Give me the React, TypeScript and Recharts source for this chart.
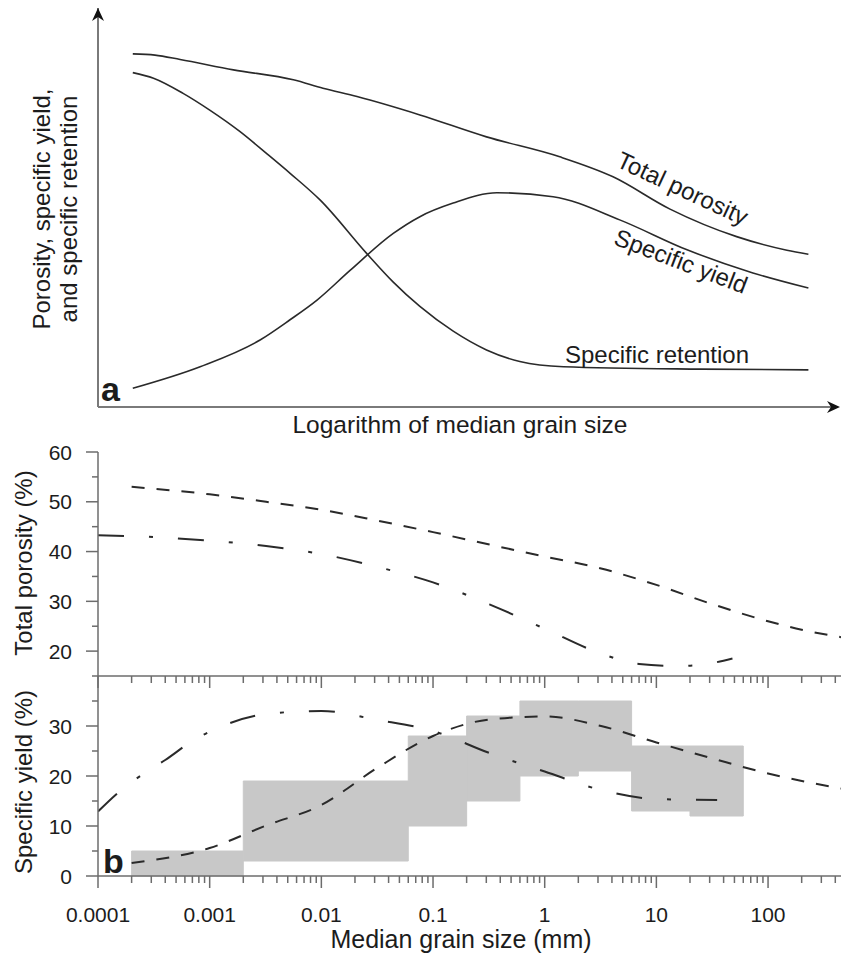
import { LineChart, Line, XAxis, YAxis, ReferenceArea, ReferenceDot } from "recharts"

const FONT = '"Liberation Sans", Arial, Helvetica, sans-serif'
const INK = "#1c1c1c"
const AXIS = "#6c6c6c"
const CURVE = "#2a2a2a"
const RANGE_FILL = "#c8c8c8"

// ---------------------------------------------------------------------------
// Panel a: schematic curves (arbitrary units, 0–100 on both axes)
// ---------------------------------------------------------------------------

const schematicTotalPorosity = [
  { x: 4.7, y: 88.5 }, { x: 7.7, y: 88.2 }, { x: 11.1, y: 87.1 }, { x: 18.3, y: 84.5 },
  { x: 26.4, y: 82.0 }, { x: 30.4, y: 79.9 }, { x: 35.0, y: 77.8 }, { x: 43.5, y: 73.2 },
  { x: 52.5, y: 67.7 }, { x: 62.4, y: 62.7 }, { x: 69.6, y: 57.7 }, { x: 77.3, y: 49.6 },
  { x: 86.3, y: 42.7 }, { x: 93.1, y: 39.3 }, { x: 96.0, y: 38.3 },
]

const schematicSpecificYield = [
  { x: 4.7, y: 4.7 }, { x: 13.8, y: 10.1 }, { x: 21.9, y: 16.8 }, { x: 25.9, y: 21.8 },
  { x: 29.6, y: 26.8 }, { x: 34.1, y: 34.3 }, { x: 39.9, y: 43.5 }, { x: 43.5, y: 47.7 },
  { x: 48.0, y: 51.1 }, { x: 53.9, y: 53.7 }, { x: 61.5, y: 52.7 }, { x: 70.5, y: 46.9 },
  { x: 79.6, y: 39.4 }, { x: 88.5, y: 33.6 }, { x: 96.0, y: 29.8 },
]

const schematicSpecificRetention = [
  { x: 4.7, y: 83.8 }, { x: 7.5, y: 82.4 }, { x: 11.5, y: 78.6 }, { x: 15.1, y: 74.4 },
  { x: 19.2, y: 69.0 }, { x: 22.8, y: 63.5 }, { x: 26.0, y: 58.5 }, { x: 30.0, y: 51.9 },
  { x: 36.3, y: 38.5 }, { x: 39.9, y: 31.3 }, { x: 43.5, y: 25.2 }, { x: 48.0, y: 19.0 },
  { x: 52.5, y: 14.3 }, { x: 57.0, y: 11.4 }, { x: 62.9, y: 10.1 }, { x: 81.4, y: 9.5 },
  { x: 96.0, y: 9.3 },
]

// ---------------------------------------------------------------------------
// Panel b: measured relations vs median grain size (mm)
// ---------------------------------------------------------------------------

const majorTicks = [0.0001, 0.001, 0.01, 0.1, 1, 10, 100]
const majorLabels = ["0.0001", "0.001", "0.01", "0.1", "1", "10", "100"]
const minorSteps = [2, 3, 4, 5, 6, 7, 8, 9]
const X_MAX = 450

const porosityTicks = [15, 20, 25, 30, 35, 40, 45, 50, 55, 60]
const yieldTicks = [0, 5, 10, 15, 20, 25, 30, 35]

// total porosity, dashed
const porosityDashed = [
  { x: 0.0002, y: 53.0 }, { x: 0.001, y: 51.5 }, { x: 0.0032, y: 50.0 }, { x: 0.01, y: 48.4 },
  { x: 0.032, y: 46.2 }, { x: 0.1, y: 43.9 }, { x: 0.32, y: 41.4 }, { x: 1, y: 39.0 },
  { x: 3.2, y: 36.6 }, { x: 10, y: 33.3 }, { x: 32, y: 29.4 }, { x: 100, y: 26.0 },
  { x: 200, y: 24.3 }, { x: 450, y: 22.8 },
]

// total porosity, dash-dot
const porosityDashDot = [
  { x: 0.0001, y: 43.3 }, { x: 0.00032, y: 42.9 }, { x: 0.001, y: 42.2 }, { x: 0.0032, y: 41.1 },
  { x: 0.01, y: 39.5 }, { x: 0.032, y: 36.9 }, { x: 0.1, y: 33.8 }, { x: 0.32, y: 29.4 },
  { x: 1, y: 24.5 }, { x: 3.2, y: 19.5 }, { x: 7, y: 17.4 }, { x: 16, y: 17.0 },
  { x: 28, y: 17.4 }, { x: 48, y: 18.5 },
]

// specific yield, dashed
const yieldDashed = [
  { x: 0.0002, y: 2.6 }, { x: 0.001, y: 5.6 }, { x: 0.0032, y: 10.1 }, { x: 0.01, y: 14.2 },
  { x: 0.032, y: 21.7 }, { x: 0.1, y: 28.0 }, { x: 0.32, y: 31.3 }, { x: 1, y: 31.9 },
  { x: 3.2, y: 30.0 }, { x: 10, y: 26.7 }, { x: 32, y: 23.5 }, { x: 100, y: 20.5 },
  { x: 450, y: 17.5 },
]

// specific yield, dash-dot
const yieldDashDot = [
  { x: 0.0001, y: 12.9 }, { x: 0.00015, y: 16.6 }, { x: 0.00025, y: 20.3 }, { x: 0.0004, y: 23.2 },
  { x: 0.0007, y: 27.0 }, { x: 0.0013, y: 30.0 }, { x: 0.0032, y: 32.4 }, { x: 0.01, y: 33.0 },
  { x: 0.032, y: 31.2 }, { x: 0.1, y: 29.0 }, { x: 0.32, y: 24.6 }, { x: 1, y: 20.9 },
  { x: 3.2, y: 17.2 }, { x: 10, y: 15.4 }, { x: 35, y: 15.2 },
]

// grey ranges of specific yield per grain-size class
const rangeFrom = [0.0002, 0.002, 0.06, 0.2, 0.6, 2, 6, 20]
const rangeTo = [0.002, 0.06, 0.2, 0.6, 2, 6, 20, 60]
const rangeMin = [0, 3, 10, 15, 20, 21, 13, 12]
const rangeMax = [5, 19, 28, 32, 35, 35, 26, 26]

const logTicks = majorTicks.flatMap((m) =>
  [m, ...minorSteps.map((s) => m * s)].filter((v) => v <= X_MAX)
)

const DASHED = "13 12"
const DASH_DOT = "26 25 4 25"

// ---------------------------------------------------------------------------
// Ticks
// ---------------------------------------------------------------------------

function LogXTick({ x, y, payload, withLabel }: any) {
  const idx = majorTicks.indexOf(payload.value)
  const major = idx >= 0
  return (
    <g>
      <line x1={x} y1={y} x2={x} y2={y + (major ? 12 : 7)} stroke={AXIS} strokeWidth={1.5} />
      {withLabel && major && (
        <text x={x} y={y + 46} textAnchor="middle" fontSize={21} fill={INK} fontFamily={FONT}>
          {majorLabels[idx]}
        </text>
      )}
    </g>
  )
}

function PercentYTick({ x, y, payload }: any) {
  const major = payload.value % 10 === 0
  return (
    <g>
      <line x1={x - (major ? 12 : 6)} y1={y} x2={x} y2={y} stroke={AXIS} strokeWidth={1.5} />
      {major && (
        <text x={x - 26} y={y} dy="0.36em" textAnchor="end" fontSize={21} fill={INK} fontFamily={FONT}>
          {payload.value}
        </text>
      )}
    </g>
  )
}

// arrow heads for the schematic axes
const upArrow = (p: any) => (
  <path
    d={`M${p.cx},${p.cy} L${p.cx - 6},${p.cy + 13} L${p.cx},${p.cy + 9} L${p.cx + 6},${p.cy + 13} Z`}
    fill="#111"
  />
)
const rightArrow = (p: any) => {
  const tx = p.cx + 2
  return (
    <path
      d={`M${tx},${p.cy} L${tx - 13},${p.cy - 6} L${tx - 9},${p.cy} L${tx - 13},${p.cy + 6} Z`}
      fill="#111"
    />
  )
}

// ---------------------------------------------------------------------------
// App
// ---------------------------------------------------------------------------

export default function App() {
  return (
    <div style={{ position: "absolute", left: 0, top: 0, width: 841, height: 954, background: "#fff", fontFamily: FONT }}>
      {/* a — schematic */}
      <div style={{ position: "absolute", left: 0, top: 0 }}>
        <LineChart width={841} height={440} margin={{ top: 8, right: 3, bottom: 0, left: 0 }}>
          <XAxis
            type="number"
            dataKey="x"
            domain={[0, 100]}
            allowDataOverflow
            tick={false}
            tickLine={false}
            height={33}
            axisLine={{ stroke: "#7a7a7a", strokeWidth: 2 }}
          />
          <YAxis
            type="number"
            domain={[0, 100]}
            allowDataOverflow
            tick={false}
            tickLine={false}
            width={98}
            axisLine={{ stroke: "#7a7a7a", strokeWidth: 2 }}
          />
          <Line data={schematicTotalPorosity} dataKey="y" type="monotone" stroke={CURVE} strokeWidth={1.6} dot={false} isAnimationActive={false} />
          <Line data={schematicSpecificYield} dataKey="y" type="monotone" stroke={CURVE} strokeWidth={1.6} dot={false} isAnimationActive={false} />
          <Line data={schematicSpecificRetention} dataKey="y" type="monotone" stroke={CURVE} strokeWidth={1.6} dot={false} isAnimationActive={false} />
          <ReferenceDot x={0} y={100} r={0} shape={upArrow} ifOverflow="visible" />
          <ReferenceDot x={100} y={0} r={0} shape={rightArrow} ifOverflow="visible" />
        </LineChart>
      </div>

      {/* b — total porosity */}
      <div style={{ position: "absolute", left: 0, top: 430 }}>
        <LineChart width={841} height={264} margin={{ top: 22, right: 0, bottom: 0, left: 0 }}>
          <XAxis
            type="number"
            dataKey="x"
            scale="log"
            domain={[0.0001, X_MAX]}
            allowDataOverflow
            ticks={logTicks}
            interval={0}
            tickSize={0}
            tickMargin={0}
            tickLine={false}
            tick={(p: any) => <LogXTick {...p} withLabel={false} />}
            height={18}
            axisLine={{ stroke: AXIS, strokeWidth: 1.5 }}
          />
          <YAxis
            type="number"
            domain={[15, 60]}
            allowDataOverflow
            ticks={porosityTicks}
            interval={0}
            tickSize={0}
            tickMargin={0}
            tickLine={false}
            tick={(p: any) => <PercentYTick {...p} />}
            width={98}
            axisLine={{ stroke: AXIS, strokeWidth: 1.5 }}
          />
          <Line data={porosityDashed} dataKey="y" type="monotone" stroke={CURVE} strokeWidth={2} strokeDasharray={DASHED} dot={false} isAnimationActive={false} />
          <Line data={porosityDashDot} dataKey="y" type="monotone" stroke={CURVE} strokeWidth={2} strokeDasharray={DASH_DOT} dot={false} isAnimationActive={false} />
        </LineChart>
      </div>

      {/* b — specific yield */}
      <div style={{ position: "absolute", left: 0, top: 668 }}>
        <LineChart width={841} height={286} margin={{ top: 8, right: 0, bottom: 0, left: 0 }}>
          <XAxis
            type="number"
            dataKey="x"
            scale="log"
            domain={[0.0001, X_MAX]}
            allowDataOverflow
            ticks={logTicks}
            interval={0}
            tickSize={0}
            tickMargin={0}
            tickLine={false}
            tick={(p: any) => <LogXTick {...p} withLabel />}
            height={78}
            axisLine={{ stroke: AXIS, strokeWidth: 1.5 }}
          />
          <YAxis
            type="number"
            domain={[0, 40]}
            allowDataOverflow
            ticks={yieldTicks}
            interval={0}
            tickSize={0}
            tickMargin={0}
            tickLine={false}
            tick={(p: any) => <PercentYTick {...p} />}
            width={98}
            axisLine={{ stroke: AXIS, strokeWidth: 1.5 }}
          />
          {rangeFrom.map((x1, i) => (
            <ReferenceArea
              key={i}
              x1={x1}
              x2={rangeTo[i]}
              y1={rangeMin[i]}
              y2={rangeMax[i]}
              fill={RANGE_FILL}
              fillOpacity={1}
              stroke={RANGE_FILL}
              strokeWidth={1}
            />
          ))}
          <Line data={yieldDashed} dataKey="y" type="monotone" stroke={CURVE} strokeWidth={2} strokeDasharray={DASHED} dot={false} isAnimationActive={false} />
          <Line data={yieldDashDot} dataKey="y" type="monotone" stroke={CURVE} strokeWidth={2} strokeDasharray={DASH_DOT} dot={false} isAnimationActive={false} />
        </LineChart>
      </div>

      {/* texts */}
      <svg width={841} height={954} style={{ position: "absolute", left: 0, top: 0, pointerEvents: "none" }}>
        <g fontFamily={FONT} fill={INK}>
          <text transform="translate(50,209) rotate(-90)" textAnchor="middle" fontSize={24}>Porosity, specific yield,</text>
          <text transform="translate(77,209) rotate(-90)" textAnchor="middle" fontSize={24}>and specific retention</text>
          <text x={101} y={401} fontSize={34} fontWeight="bold">a</text>
          <text transform="translate(679,196) rotate(25)" textAnchor="middle" fontSize={24}>Total porosity</text>
          <text transform="translate(678,269) rotate(21)" textAnchor="middle" fontSize={24}>Specific yield</text>
          <text x={657} y={363} textAnchor="middle" fontSize={24}>Specific retention</text>
          <text x={460} y={433} textAnchor="middle" fontSize={24.5}>Logarithm of median grain size</text>
          <text transform="translate(32,563) rotate(-90)" textAnchor="middle" fontSize={24}>Total porosity (%)</text>
          <text transform="translate(32,782) rotate(-90)" textAnchor="middle" fontSize={24}>Specific yield (%)</text>
          <text x={103} y={873} fontSize={34} fontWeight="bold">b</text>
          <text x={461} y={948} textAnchor="middle" fontSize={25}>Median grain size (mm)</text>
        </g>
      </svg>
    </div>
  )
}
